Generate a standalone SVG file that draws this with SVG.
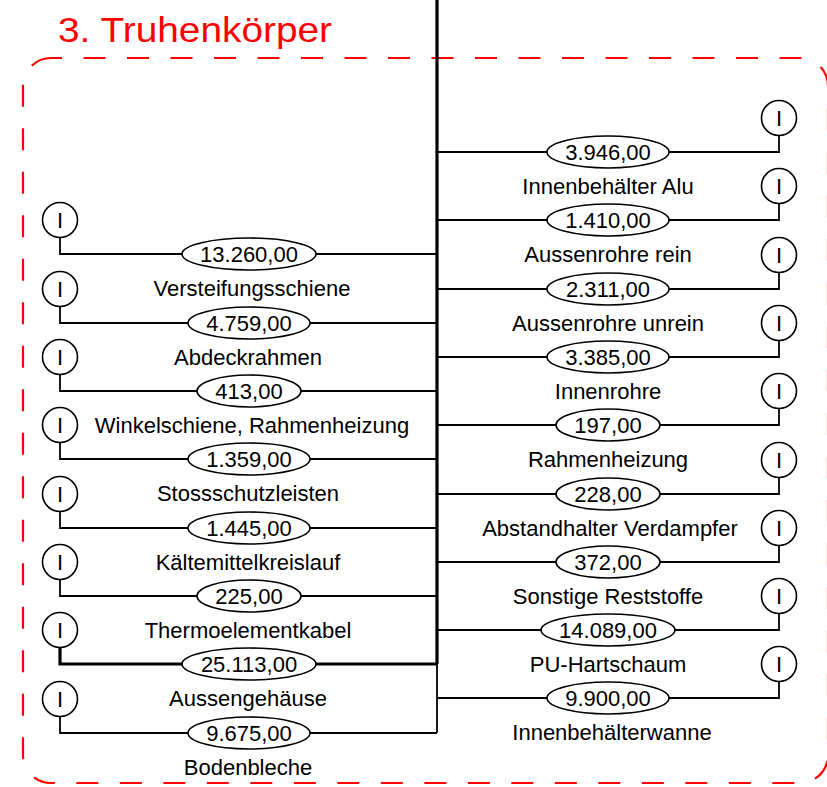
<svg xmlns="http://www.w3.org/2000/svg" width="827" height="787" viewBox="0 0 827 787">
<style>
.t{font-family:"Liberation Sans",Arial,sans-serif;font-size:22px;fill:#000;text-anchor:middle}
.c{fill:#fff;stroke:#000;stroke-width:1.6}
.e{fill:#fff;stroke:#000;stroke-width:1.6}
.l{fill:none;stroke:#000;stroke-width:1.8}
.b{fill:none;stroke:#000;stroke-width:3.2}
</style>
<rect width="827" height="787" fill="#fff"/>
<g id="frame">
<rect x="23" y="58" width="805" height="725" rx="28" ry="28" fill="none" stroke="#ff0000" stroke-width="2.2" stroke-dasharray="22 21.5" stroke-dashoffset="11"/>
<text x="58" y="42" font-family="'Liberation Sans',Arial,sans-serif" font-size="35" fill="#ff0000" textLength="274" lengthAdjust="spacingAndGlyphs">3. Truhenkörper</text>
</g>
<g id="connectors">
<path class="b" d="M437 0V664"/>
<path class="l" d="M437 664V733"/>
<path class="l" d="M437 152H779V135.5"/>
<path class="l" d="M437 220H779V203.5"/>
<path class="l" d="M437 289H779V272.5"/>
<path class="l" d="M437 357H779V340.5"/>
<path class="l" d="M437 425H779V408.5"/>
<path class="l" d="M437 494H779V477.5"/>
<path class="l" d="M437 562H779V545.5"/>
<path class="l" d="M437 630H779V613.5"/>
<path class="l" d="M437 698H779V681.5"/>
<path class="l" d="M437 254H60V237.5"/>
<path class="l" d="M437 323H60V306.5"/>
<path class="l" d="M437 391H60V374.5"/>
<path class="l" d="M437 459H60V442.5"/>
<path class="l" d="M437 528H60V511.5"/>
<path class="l" d="M437 596H60V579.5"/>
<path class="b" d="M437 664H60V647.5"/>
<path class="l" d="M437 733H60V716.5"/>
</g>
<g id="sources">
<g id="src-r1"><circle class="c" cx="779" cy="118" r="17.5"/><text class="t" x="779" y="126">I</text></g>
<g id="src-r2"><circle class="c" cx="779" cy="186" r="17.5"/><text class="t" x="779" y="194">I</text></g>
<g id="src-r3"><circle class="c" cx="779" cy="255" r="17.5"/><text class="t" x="779" y="263">I</text></g>
<g id="src-r4"><circle class="c" cx="779" cy="323" r="17.5"/><text class="t" x="779" y="331">I</text></g>
<g id="src-r5"><circle class="c" cx="779" cy="391" r="17.5"/><text class="t" x="779" y="399">I</text></g>
<g id="src-r6"><circle class="c" cx="779" cy="460" r="17.5"/><text class="t" x="779" y="468">I</text></g>
<g id="src-r7"><circle class="c" cx="779" cy="528" r="17.5"/><text class="t" x="779" y="536">I</text></g>
<g id="src-r8"><circle class="c" cx="779" cy="596" r="17.5"/><text class="t" x="779" y="604">I</text></g>
<g id="src-r9"><circle class="c" cx="779" cy="664" r="17.5"/><text class="t" x="779" y="672">I</text></g>
<g id="src-l1"><circle class="c" cx="60" cy="220" r="17.5"/><text class="t" x="60" y="228">I</text></g>
<g id="src-l2"><circle class="c" cx="60" cy="289" r="17.5"/><text class="t" x="60" y="297">I</text></g>
<g id="src-l3"><circle class="c" cx="60" cy="357" r="17.5"/><text class="t" x="60" y="365">I</text></g>
<g id="src-l4"><circle class="c" cx="60" cy="425" r="17.5"/><text class="t" x="60" y="433">I</text></g>
<g id="src-l5"><circle class="c" cx="60" cy="494" r="17.5"/><text class="t" x="60" y="502">I</text></g>
<g id="src-l6"><circle class="c" cx="60" cy="562" r="17.5"/><text class="t" x="60" y="570">I</text></g>
<g id="src-l7"><circle class="c" cx="60" cy="630" r="17.5"/><text class="t" x="60" y="638">I</text></g>
<g id="src-l8"><circle class="c" cx="60" cy="699" r="17.5"/><text class="t" x="60" y="707">I</text></g>
</g>
<g id="flows">
<g id="f-r1"><ellipse class="e" cx="608" cy="152" rx="61" ry="16"/><text class="t" x="608" y="160">3.946,00</text><text class="t" x="608" y="194">Innenbehälter Alu</text></g>
<g id="f-r2"><ellipse class="e" cx="608" cy="220" rx="61" ry="16"/><text class="t" x="608" y="228">1.410,00</text><text class="t" x="608" y="262">Aussenrohre rein</text></g>
<g id="f-r3"><ellipse class="e" cx="608" cy="289" rx="61" ry="16"/><text class="t" x="608" y="297">2.311,00</text><text class="t" x="608" y="331">Aussenrohre unrein</text></g>
<g id="f-r4"><ellipse class="e" cx="608" cy="357" rx="61" ry="16"/><text class="t" x="608" y="365">3.385,00</text><text class="t" x="608" y="399">Innenrohre</text></g>
<g id="f-r5"><ellipse class="e" cx="608" cy="425" rx="52" ry="16"/><text class="t" x="608" y="433">197,00</text><text class="t" x="608" y="467">Rahmenheizung</text></g>
<g id="f-r6"><ellipse class="e" cx="608" cy="494" rx="52" ry="16"/><text class="t" x="608" y="502">228,00</text><text class="t" x="610" y="536">Abstandhalter Verdampfer</text></g>
<g id="f-r7"><ellipse class="e" cx="608" cy="562" rx="52" ry="16"/><text class="t" x="608" y="570">372,00</text><text class="t" x="608" y="604">Sonstige Reststoffe</text></g>
<g id="f-r8"><ellipse class="e" cx="608" cy="630" rx="67" ry="16"/><text class="t" x="608" y="638">14.089,00</text><text class="t" x="608" y="672">PU-Hartschaum</text></g>
<g id="f-r9"><ellipse class="e" cx="608" cy="698" rx="61" ry="16"/><text class="t" x="608" y="706">9.900,00</text><text class="t" x="612" y="740">Innenbehälterwanne</text></g>
<g id="f-l1"><ellipse class="e" cx="249" cy="254" rx="67" ry="16"/><text class="t" x="249" y="262">13.260,00</text><text class="t" x="252" y="296">Versteifungsschiene</text></g>
<g id="f-l2"><ellipse class="e" cx="249" cy="323" rx="61" ry="16"/><text class="t" x="249" y="331">4.759,00</text><text class="t" x="248" y="365">Abdeckrahmen</text></g>
<g id="f-l3"><ellipse class="e" cx="249" cy="391" rx="52" ry="16"/><text class="t" x="249" y="399">413,00</text><text class="t" x="252" y="433">Winkelschiene, Rahmenheizung</text></g>
<g id="f-l4"><ellipse class="e" cx="249" cy="459" rx="61" ry="16"/><text class="t" x="249" y="467">1.359,00</text><text class="t" x="248" y="501">Stossschutzleisten</text></g>
<g id="f-l5"><ellipse class="e" cx="249" cy="528" rx="61" ry="16"/><text class="t" x="249" y="536">1.445,00</text><text class="t" x="248" y="570">Kältemittelkreislauf</text></g>
<g id="f-l6"><ellipse class="e" cx="249" cy="596" rx="52" ry="16"/><text class="t" x="249" y="604">225,00</text><text class="t" x="248" y="638">Thermoelementkabel</text></g>
<g id="f-l7"><ellipse class="e" cx="249" cy="664" rx="67" ry="16"/><text class="t" x="249" y="672">25.113,00</text><text class="t" x="248" y="706">Aussengehäuse</text></g>
<g id="f-l8"><ellipse class="e" cx="249" cy="733" rx="61" ry="16"/><text class="t" x="249" y="741">9.675,00</text><text class="t" x="248" y="775">Bodenbleche</text></g>
</g>
</svg>
